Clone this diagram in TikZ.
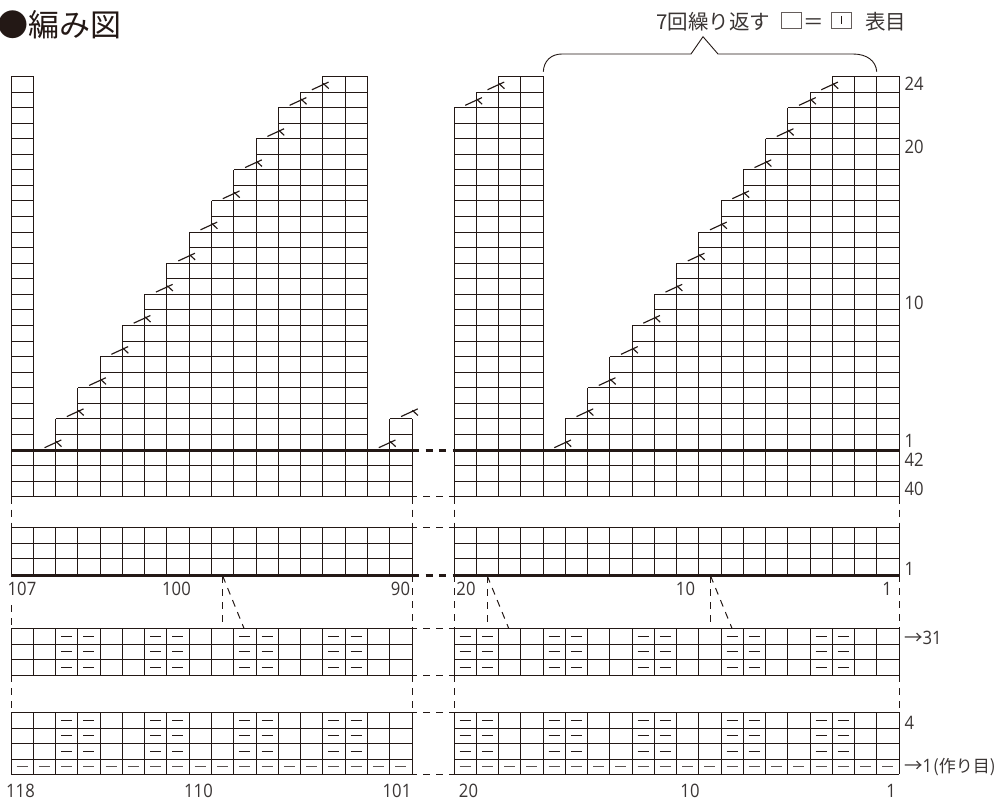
\documentclass[tikz,border=0pt]{standalone}
\usepackage{fontspec}
\setmainfont[FakeStretch=0.9]{Open Sans}
\newfontfamily\jpfont{Noto Sans CJK JP}
\definecolor{ink}{HTML}{231815}
\definecolor{txt}{HTML}{3A3534}
\newcommand{\lx}[1]{\fpeval{11+22.28*(#1)}}
\newcommand{\rx}[1]{\fpeval{454+22.25*(#1)}}
\newcommand{\upy}[1]{\fpeval{450-15.5625*(#1)}}
\tikzset{
  gridline/.style={draw=ink,line width=1pt},
  boldline/.style={draw=ink,line width=3pt},
  gaphair/.style={draw=ink,line width=1pt,dash pattern=on 7pt off 6pt},
  gapbold/.style={draw=ink,line width=3pt,dash pattern=on 7pt off 6.5pt},
  purl/.style={draw=ink,line width=1pt,line cap=butt},
  purlb/.style={draw=ink!75,line width=1.5pt},
  decr/.style={draw=ink,line width=1.15pt},
  num/.style={text=txt,font=\fontsize{18.5}{18}\selectfont,inner sep=0pt,anchor=center},
  numl/.style={num,anchor=west},
  jp/.style={text=txt,inner sep=0pt,font=\jpfont\fontsize{20.5}{22}\selectfont}
}
% one grid column: left x, right x, number of rows above y=450
\newcommand{\stcol}[3]{%
  \draw[gridline] (#1,\upy{#3}) -- (#1,496.7);
  \draw[gridline] (#2,\upy{#3}) -- (#2,496.7);
  \foreach \r in {0,...,#3}{\draw[gridline] (#1,\upy{\r}) -- (#2,\upy{\r});}
  \foreach \yy in {465.6,481.1,496.7}{\draw[gridline] (#1,\yy) -- (#2,\yy);}
}
% decrease mark: x of riser, number of rows of the lower neighbour
\newcommand{\dec}[2]{%
  \draw[decr] (\fpeval{#1-11},\fpeval{\upy{#2}-2.3}) -- (\fpeval{#1+5.7},\fpeval{\upy{#2}-10});
  \draw[decr] (\fpeval{#1+0.3},\fpeval{\upy{#2}-8.6}) -- (\fpeval{#1+5.9},\fpeval{\upy{#2}-3.4});
}
\begin{document}
\begin{tikzpicture}[x=1pt,y=-1pt]
\useasboundingbox (0,0) rectangle (998,799);
% upper left block
\foreach \i/\n in {0/24,1/0,2/2,3/4,4/6,5/8,6/10,7/12,8/14,9/16,10/18,11/20,12/22,13/23,14/24,15/24,16/0,17/2}{
  \stcol{\lx{\i}}{\lx{\i+1}}{\n}
}
% upper right block
\foreach \i/\n in {0/22,1/23,2/24,3/24,4/0,5/2,6/4,7/6,8/8,9/10,10/12,11/14,12/16,13/18,14/20,15/22,16/23,17/24,18/24,19/24}{
  \stcol{\rx{\i}}{\rx{\i+1}}{\n}
}
% decrease marks
\foreach \i/\n in {2/0,3/2,4/4,5/6,6/8,7/10,8/12,9/14,10/16,11/18,12/20,13/22,14/23,17/0,18/2}{\dec{\lx{\i}}{\n}}
\foreach \i/\n in {1/22,2/23,5/0,6/2,7/4,8/6,9/8,10/10,11/12,12/14,13/16,14/18,15/20,16/22,17/23}{\dec{\rx{\i}}{\n}}
% middle block and lower blocks
\foreach \yy in {527.4,543,558.8}{
  \draw[gridline] (11,\yy) -- (412,\yy);
  \draw[gridline] (454,\yy) -- (899,\yy);
}
\foreach \yy in {628.3,644,659.4,675,712.3,728,743.4,759,774.4}{
  \draw[gridline] (11,\yy) -- (412,\yy);
  \draw[gridline] (454,\yy) -- (899,\yy);
}
\foreach \i in {0,...,18}{
  \draw[gridline] (\lx{\i},527.4) -- (\lx{\i},575);
  \draw[gridline] (\lx{\i},628.3) -- (\lx{\i},675);
  \draw[gridline] (\lx{\i},712.3) -- (\lx{\i},774.4);
}
\foreach \i in {0,...,20}{
  \draw[gridline] (\rx{\i},527.4) -- (\rx{\i},575);
  \draw[gridline] (\rx{\i},628.3) -- (\rx{\i},675);
  \draw[gridline] (\rx{\i},712.3) -- (\rx{\i},774.4);
}
% thick rows
\draw[boldline] (11,450) -- (412,450);
\draw[boldline] (454,450) -- (899,450);
\draw[boldline] (11,575) -- (412,575);
\draw[boldline] (454,575) -- (899,575);
% purl marks
\foreach \yy in {636.2,651.7,667.2,720.2,735.7,751.2}{
  \foreach \i in {2,3,6,7,10,11,14,15}{
    \draw[purl] (\fpeval{\lx{\i}+5.5},\yy) -- (\fpeval{\lx{\i}+16.5},\yy);
  }
  \foreach \i in {0,1,4,5,8,9,12,13,16,17}{
    \draw[purl] (\fpeval{\rx{\i}+5.5},\yy) -- (\fpeval{\rx{\i}+16.5},\yy);
  }
}
\foreach \i in {0,...,17}{\draw[purlb] (\fpeval{\lx{\i}+5.5},766.7) -- (\fpeval{\lx{\i}+16.5},766.7);}
\foreach \i in {0,...,19}{\draw[purlb] (\fpeval{\rx{\i}+5.5},766.7) -- (\fpeval{\rx{\i}+16.5},766.7);}
% gaps between blocks
\draw[gapbold] (412,450) -- (454,450);
\draw[gapbold] (412,575) -- (454,575);
\foreach \yy in {496.7,527.4,628.3,675,712.3,774.4}{\draw[gaphair] (410,\yy) -- (454,\yy);}
\foreach \xx in {11,412,454,899}{
  \draw[gaphair] (\xx,496.7) -- (\xx,527.4);
  \draw[gaphair] (\xx,675) -- (\xx,712.3);
}
\foreach \xx in {412,454,899}{\draw[gaphair] (\xx,575) -- (\xx,628.3);}
\draw[gaphair] (11,605) -- (11,628.3);
% pattern repeat pointers
\foreach \xa/\xb in {222.7/244,487.3/508.7,710.6/732}{
  \draw[gaphair] (\xa,576) -- (\xa,628.3);
  \draw[gaphair] (\xa,576) -- (\xb,628.3);
}
% brace
\draw[draw=ink,line width=0.9pt] (543.3,71.7) .. controls (543.8,61) and (551,54) .. (562,54)
  -- (691,54) -- (703,36.7) -- (718,54) -- (853,54)
  .. controls (867,54) and (876,61) .. (876.7,71.7);
% legend
\draw[draw=ink!70,line width=0.9pt] (781,12.3) rectangle (801,28);
\draw[draw=ink!70,line width=0.9pt] (831.7,12.3) rectangle (851,28);
\draw[draw=ink,line width=0.9pt] (841.5,16) -- (841.5,24.5);
% title and legend text
\node[jp,anchor=west,font=\jpfont\fontsize{31}{33}\selectfont,text=ink] (title) at (-3,25) {●編み図};
\node[jp,anchor=west] (rep) at (656,21.5) {7回繰り返す};
\node[jp] (eq) at (814,24) {＝};
\node[jp,anchor=west] (knit) at (865,21.5) {表目};
% right labels
\node[numl] (r24) at (904.5,84) {24};
\node[numl] (r20) at (904.5,147) {20};
\node[numl] (r10) at (904.5,303) {10};
\node[numl] (r1a) at (904.5,441) {1};
\node[numl] (r42) at (904.5,460) {42};
\node[numl] (r40) at (904.5,489) {40};
\node[numl] (r1b) at (904.5,568.5) {1};
\node[numl] (r31) at (904,638) {{\jpfont →}31};
\node[numl] (r4) at (904.5,723) {4};
\node[numl] (r1c) at (904,767) {{\jpfont →}1\hspace{1pt}{\jpfont\fontsize{17}{18}\selectfont (作り目)}};
% lower labels
\node[num] (a107) at (22,589) {107};
\node[num] (a100) at (176.5,589) {100};
\node[num] (a90) at (400.5,589) {90};
\node[num] (a20) at (466,589) {20};
\node[num] (a10) at (685.5,589) {10};
\node[num] (a1) at (887,589) {1};
\node[num] (b118) at (20.5,790.5) {118};
\node[num] (b110) at (198.5,790.5) {110};
\node[num] (b101) at (397,790.5) {101};
\node[num] (b20) at (468.5,790.5) {20};
\node[num] (b10) at (690,790.5) {10};
\node[num] (b1) at (891,790.5) {1};
\end{tikzpicture}
\end{document}
